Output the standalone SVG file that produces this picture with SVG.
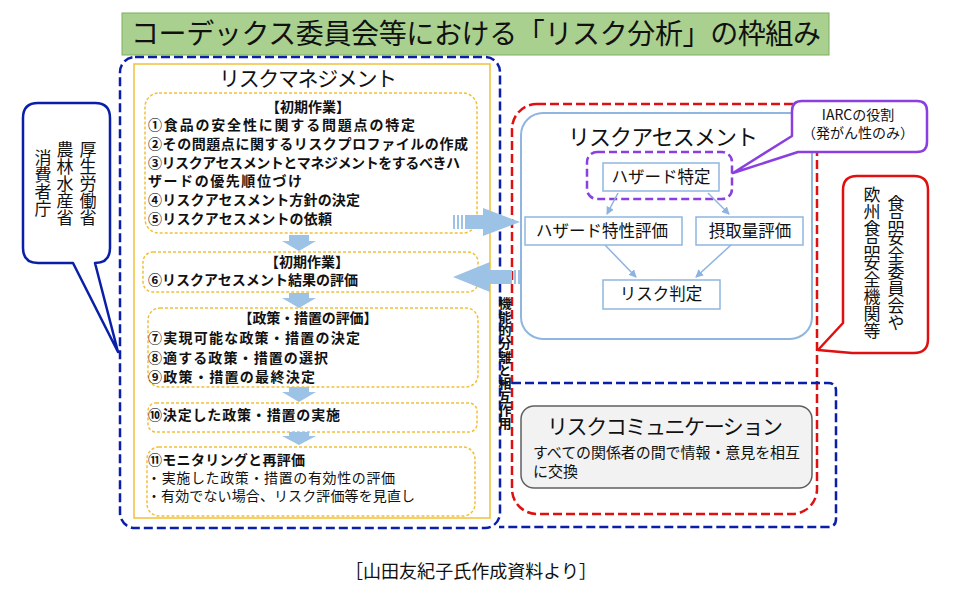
<svg xmlns="http://www.w3.org/2000/svg" width="957" height="601" viewBox="0 0 957 601">
<style>
text{font-family:"Noto Sans CJK JP","Noto Sans",sans-serif;fill:#111}
.b{font-weight:bold;font-size:14px}
.n{font-size:14px}
.hd{font-weight:bold;font-size:14px;text-anchor:middle}
.ybox{fill:#fff;stroke:#f2c038;stroke-width:1.5;stroke-dasharray:3 2}
.dblue{fill:none;stroke:#0a1fa8;stroke-width:2.5;stroke-dasharray:9 4}
.dred{fill:none;stroke:#e01010;stroke-width:2.5;stroke-dasharray:9 4}
.lb{fill:#fff;stroke:#8fb6e0;stroke-width:1.5}
.arw{fill:#9cc2e6}
.con{fill:none;stroke:#8db3e0;stroke-width:1.5}
.vt{writing-mode:vertical-rl;font-size:17px}
.ra{font-size:16.5px;text-anchor:middle}
</style>
<defs>
<marker id="ah" markerWidth="8" markerHeight="8" refX="7" refY="4" orient="auto" markerUnits="userSpaceOnUse">
<path d="M0,0 L8,4 L0,8 z" fill="#8db3e0"/>
</marker>
</defs>
<rect width="957" height="601" fill="#fff"/>

<g id="title">
<rect x="122" y="13" width="707" height="42" fill="#a9d08e" stroke="#7fae5f" stroke-width="1"/>
<text x="476" y="44" font-size="28" text-anchor="middle" textLength="690">コーデックス委員会等における「リスク分析」の枠組み</text>
</g>

<g id="risk-management">
<rect class="dblue" x="120" y="57" width="380" height="471" rx="15"/>
<rect x="134" y="64" width="356" height="454" fill="#fff" stroke="#f2c038" stroke-width="1.5"/>
<text x="308" y="86" font-size="21" text-anchor="middle" textLength="178">リスクマネジメント</text>
</g>

<g id="step1">
<rect class="ybox" x="145" y="93" width="332" height="140" rx="14"/>
<text class="hd" x="308" y="112">【初期作業】</text>
<text class="b" x="148" y="130" textLength="267">①食品の安全性に関する問題点の特定</text>
<text class="b" x="148" y="149" textLength="320">②その問題点に関するリスクプロファイルの作成</text>
<text class="b" x="148" y="167.5" textLength="312">③リスクアセスメントとマネジメントをするべきハ</text>
<text class="b" x="148" y="186" textLength="154">ザードの優先順位づけ</text>
<text class="b" x="148" y="205" textLength="212">④リスクアセスメント方針の決定</text>
<text class="b" x="148" y="223.5" textLength="184">⑤リスクアセスメントの依頼</text>
</g>

<g id="step2">
<rect class="ybox" x="143" y="252" width="335" height="40" rx="10"/>
<text class="hd" x="307" y="267">【初期作業】</text>
<text class="b" x="148" y="285" textLength="210">⑥リスクアセスメント結果の評価</text>
</g>

<g id="step3">
<rect class="ybox" x="148" y="308" width="330" height="79" rx="12"/>
<text class="hd" x="308" y="323" textLength="139">【政策・措置の評価】</text>
<text class="b" x="148" y="343" textLength="212">⑦実現可能な政策・措置の決定</text>
<text class="b" x="148" y="363" textLength="180">⑧適する政策・措置の選択</text>
<text class="b" x="148" y="382" textLength="167">⑨政策・措置の最終決定</text>
</g>

<g id="step4">
<rect class="ybox" x="148" y="403" width="329" height="29" rx="8"/>
<text class="b" x="148" y="420" textLength="192">⑩決定した政策・措置の実施</text>
</g>

<g id="step5">
<rect class="ybox" x="147" y="447" width="328" height="69" rx="12"/>
<text class="b" x="148" y="465" textLength="157">⑪モニタリングと再評価</text>
<text class="n" x="147" y="483" textLength="248">・実施した政策・措置の有効性の評価</text>
<text class="n" x="147" y="501" textLength="268">・有効でない場合、リスク評価等を見直し</text>
</g>

<g id="risk-assessment">
<rect class="dred" x="512" y="104" width="305" height="410" rx="25"/>
<rect x="521" y="113" width="291" height="226" rx="22" fill="#fff" stroke="#8fb6e0" stroke-width="2"/>
<text x="663" y="145" font-size="22" text-anchor="middle" textLength="190">リスクアセスメント</text>
</g>

<g id="hazard-id">
<rect x="587" y="152" width="145" height="47" rx="10" fill="none" stroke="#8a3fe0" stroke-width="2.5" stroke-dasharray="8 4"/>
<rect class="lb" x="603" y="163" width="116" height="28"/>
<text class="ra" x="661" y="183">ハザード特定</text>
</g>

<g id="hazard-char">
<rect class="lb" x="525" y="217" width="157" height="28"/>
<text class="ra" x="602" y="237">ハザード特性評価</text>
</g>

<g id="exposure">
<rect class="lb" x="696" y="217" width="107" height="28"/>
<text class="ra" x="750" y="237">摂取量評価</text>
</g>

<g id="risk-char">
<rect class="lb" x="603" y="280" width="117" height="29"/>
<text class="ra" x="661" y="300">リスク判定</text>
</g>

<g id="risk-communication">
<path class="dblue" d="M499,383 H828 Q836,383 836,391 V519 Q836,527 828,527 H499"/>
<rect x="521" y="406" width="291" height="82" rx="13" fill="#f2f2f2" stroke="#606060" stroke-width="1.5"/>
<text x="665" y="434" font-size="21" text-anchor="middle" textLength="236">リスクコミュニケーション</text>
<text x="533" y="458" font-size="15" textLength="267">すべての関係者の間で情報・意見を相互</text>
<text x="533" y="477" font-size="15">に交換</text>
</g>

<g id="iarc-callout">
<path d="M802,101 H917 Q927,101 927,111 V142 Q927,152 917,152 H798 L733,173 L792,136 V111 Q792,101 802,101 Z" fill="#fff" stroke="#8a3fe0" stroke-width="2.5" stroke-linejoin="round"/>
<text x="858" y="120" font-size="14" text-anchor="middle">IARCの役割</text>
<text x="858" y="138" font-size="14" text-anchor="middle">（発がん性のみ）</text>
</g>

<g id="fsc-callout">
<path d="M857,176 H914 Q928,176 928,190 V339 Q928,353 914,353 H852 L818,350 L843,323 V190 Q843,176 857,176 Z" fill="#fff" stroke="#e01010" stroke-width="2.5" stroke-linejoin="round"/>
<text class="vt" x="896" y="195">食品安全委員会や</text>
<text class="vt" x="872" y="186">欧州食品安全機関等</text>
</g>

<g id="ministry-callout">
<path d="M38,103 H95 Q110,103 110,118 V248 Q110,263 95,263 L118,352 L73,263 H38 Q23,263 23,248 V118 Q23,103 38,103 Z" fill="#fff" stroke="#0a1fa8" stroke-width="2.5" stroke-linejoin="round"/>
<text class="vt" x="88" y="141">厚生労働省</text>
<text class="vt" x="65" y="141">農林水産省</text>
<text class="vt" x="43" y="149">消費者庁</text>
</g>

<g id="connectors">
<path class="arw" d="M289,235 H309 V241 H316 L299,251 L282,241 H289 Z"/>
<path class="arw" d="M289,293 H309 V298 H316 L299,308 L282,298 H289 Z"/>
<path class="arw" d="M289,387 H309 V392 H316 L299,402 L282,392 H289 Z"/>
<path class="arw" d="M289,432 H309 V436 H316 L299,445 L282,436 H289 Z"/>
<rect class="arw" x="453" y="215" width="2" height="14"/>
<rect class="arw" x="457" y="215" width="2" height="14"/>
<rect class="arw" x="461" y="215" width="2" height="14"/>
<path class="arw" d="M465,215 H483 V208 L520,222 L483,236 V229 H465 Z"/>
<path class="arw" d="M453,277 L490,262 V270 H512 V284 H490 V292 Z"/>
<rect class="arw" x="514" y="270" width="2" height="14"/>
<rect class="arw" x="518" y="270" width="2" height="14"/>
<line class="con" x1="618" y1="193" x2="607" y2="214" marker-end="url(#ah)"/>
<line class="con" x1="708" y1="193" x2="729" y2="214" marker-end="url(#ah)"/>
<line class="con" x1="605" y1="245" x2="636" y2="277" marker-end="url(#ah)"/>
<line class="con" x1="731" y1="245" x2="696" y2="277" marker-end="url(#ah)"/>
</g>

<text x="505" y="297" font-size="13" font-weight="bold" style="writing-mode:vertical-rl;letter-spacing:0.3px">機能的分離と相互作用</text>

<text x="345" y="578" font-size="18" fill="#333" textLength="252">［山田友紀子氏作成資料より］</text>
</svg>
